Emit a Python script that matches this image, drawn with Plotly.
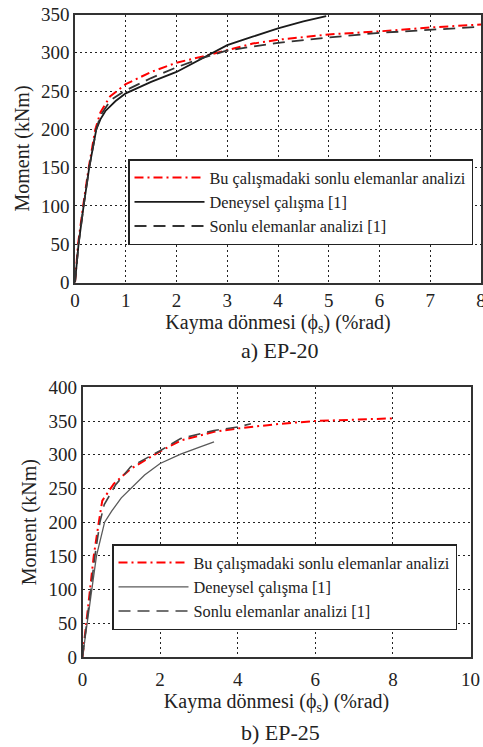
import plotly.graph_objects as go

# ---------- EP-20 (top) ----------
a_red_x = [0, 0.06, 0.16, 0.27, 0.40, 0.50, 0.69, 1.0, 1.5, 2.0, 2.5, 3.0, 3.5, 4.0, 5.0, 6.0, 7.0, 8.0]
a_red_y = [0, 50, 100, 150, 200, 222, 243, 259, 275, 287, 295, 304, 312, 317, 324, 328, 333, 337]

a_exp_x = [0, 0.07, 0.17, 0.28, 0.42, 0.50, 0.60, 0.80, 1.0, 1.5, 2.0, 2.5, 3.0, 3.5, 4.0, 4.5, 4.95]
a_exp_y = [0, 50, 100, 150, 200, 213, 224, 237, 247, 262, 275, 293, 310, 321, 332, 341, 348]

a_fe_x = [0, 0.07, 0.17, 0.28, 0.42, 0.50, 0.70, 1.0, 1.5, 2.0, 2.5, 3.0, 4.0, 5.0, 6.0, 7.0, 8.0]
a_fe_y = [0, 50, 100, 150, 200, 218, 238, 251, 267, 281, 293, 303, 313, 320, 326, 330, 334]

# ---------- EP-25 (bottom) ----------
b_red_x = [0, 0.10, 0.19, 0.29, 0.42, 0.51, 0.81, 1.24, 2.0, 2.53, 3.39, 4.0, 5.12, 6.0, 7.0, 8.05]
b_red_y = [0, 50, 100, 150, 200, 232, 257, 279, 305, 321, 334, 339, 346, 350, 352, 354]

b_exp_x = [0, 0.12, 0.23, 0.36, 0.57, 0.76, 1.0, 1.24, 1.6, 2.0, 2.53, 3.0, 3.39]
b_exp_y = [0, 50, 100, 150, 200, 217, 236, 250, 270, 287, 301, 311, 319]

b_fe_x = [0, 0.11, 0.21, 0.32, 0.45, 0.56, 0.85, 1.24, 2.0, 2.53, 3.39, 4.0, 4.34]
b_fe_y = [0, 50, 100, 150, 200, 226, 255, 282, 306, 324, 336, 341, 346]

names = ["Bu çalışmadaki sonlu elemanlar analizi", "Deneysel çalışma [1]", "Sonlu elemanlar analizi [1]"]
x_title = "Kayma dönmesi (ϕ<sub>s</sub>) (%rad)"
y_title = "Moment (kNm)"
captions = ["a) EP-20", "b) EP-25"]

W, H = 483, 747
SERIF = "Liberation Serif"
RED_DASH = "9px,4px,2px,4px"
BLK_DASH = "12px,7px"

fig = go.Figure()

# top traces
fig.add_trace(go.Scatter(x=a_red_x, y=a_red_y, mode="lines", name=names[0],
                         line=dict(color="#ff0000", width=2, dash=RED_DASH),
                         xaxis="x", yaxis="y", legend="legend"))
fig.add_trace(go.Scatter(x=a_exp_x, y=a_exp_y, mode="lines", name=names[1],
                         line=dict(color="#1a1a1a", width=1.8),
                         xaxis="x", yaxis="y", legend="legend"))
fig.add_trace(go.Scatter(x=a_fe_x, y=a_fe_y, mode="lines", name=names[2],
                         line=dict(color="#333333", width=1.8, dash=BLK_DASH),
                         xaxis="x", yaxis="y", legend="legend"))
# bottom traces
fig.add_trace(go.Scatter(x=b_red_x, y=b_red_y, mode="lines", name=names[0],
                         line=dict(color="#ff0000", width=2, dash=RED_DASH),
                         xaxis="x2", yaxis="y2", legend="legend2"))
fig.add_trace(go.Scatter(x=b_exp_x, y=b_exp_y, mode="lines", name=names[1],
                         line=dict(color="#5a5a5a", width=1.3),
                         xaxis="x2", yaxis="y2", legend="legend2"))
fig.add_trace(go.Scatter(x=b_fe_x, y=b_fe_y, mode="lines", name=names[2],
                         line=dict(color="#444444", width=1.6, dash=BLK_DASH),
                         xaxis="x2", yaxis="y2", legend="legend2"))

tickfont = dict(family=SERIF, size=19, color="#222")
titlefont = dict(family=SERIF, size=20, color="#222")
common = dict(showgrid=True, gridcolor="#222", griddash="2px,3px", gridwidth=1,
              showline=True, mirror=True, linecolor="#333", linewidth=1.5,
              zeroline=False, ticks="", tickfont=tickfont, automargin=False,
              ticklabeloverflow="allow")

def px_x(p):
    return p / W

def px_y(p):
    return 1 - p / H

fig.update_layout(
    width=W, height=H,
    margin=dict(l=0, r=0, t=0, b=0, pad=0, autoexpand=False),
    paper_bgcolor="white", plot_bgcolor="white",
    font=dict(family=SERIF, color="#222"),
    xaxis=dict(domain=[px_x(75), px_x(481)], range=[0, 8], dtick=1, anchor="y",
               title=dict(text=x_title, font=titlefont, standoff=0), **common),
    yaxis=dict(domain=[px_y(282.5), px_y(14.5)], range=[0, 350], dtick=50, anchor="x",
               title=dict(text=y_title, font=titlefont, standoff=6), **common),
    xaxis2=dict(domain=[px_x(82.5), px_x(470.5)], range=[0, 10], dtick=2, anchor="y2",
                ticklabelstandoff=4,
                title=dict(text=x_title, font=titlefont, standoff=4), **common),
    yaxis2=dict(domain=[px_y(657), px_y(387.3)], range=[0, 400], dtick=50, anchor="x2",
                title=dict(text=y_title, font=titlefont, standoff=6), **common),
    legend=dict(x=px_x(128), y=px_y(159), xanchor="left", yanchor="top",
                bgcolor="white", bordercolor="#222", borderwidth=1.5,
                font=dict(family=SERIF, size=16.3, color="#222"),
                itemwidth=70, tracegroupgap=0),
    legend2=dict(x=px_x(112), y=px_y(544), xanchor="left", yanchor="top",
                 bgcolor="white", bordercolor="#222", borderwidth=1.5,
                 font=dict(family=SERIF, size=16.3, color="#222"),
                 itemwidth=70, tracegroupgap=0),
    annotations=[
        dict(text=captions[0], x=px_x(280), y=px_y(350), xref="paper", yref="paper",
             xanchor="center", yanchor="middle",
             showarrow=False, font=dict(family=SERIF, size=22, color="#222")),
        dict(text=captions[1], x=px_x(280), y=px_y(732), xref="paper", yref="paper",
             xanchor="center", yanchor="middle",
             showarrow=False, font=dict(family=SERIF, size=22, color="#222")),
    ],
)

fig.write_html("out.html")
